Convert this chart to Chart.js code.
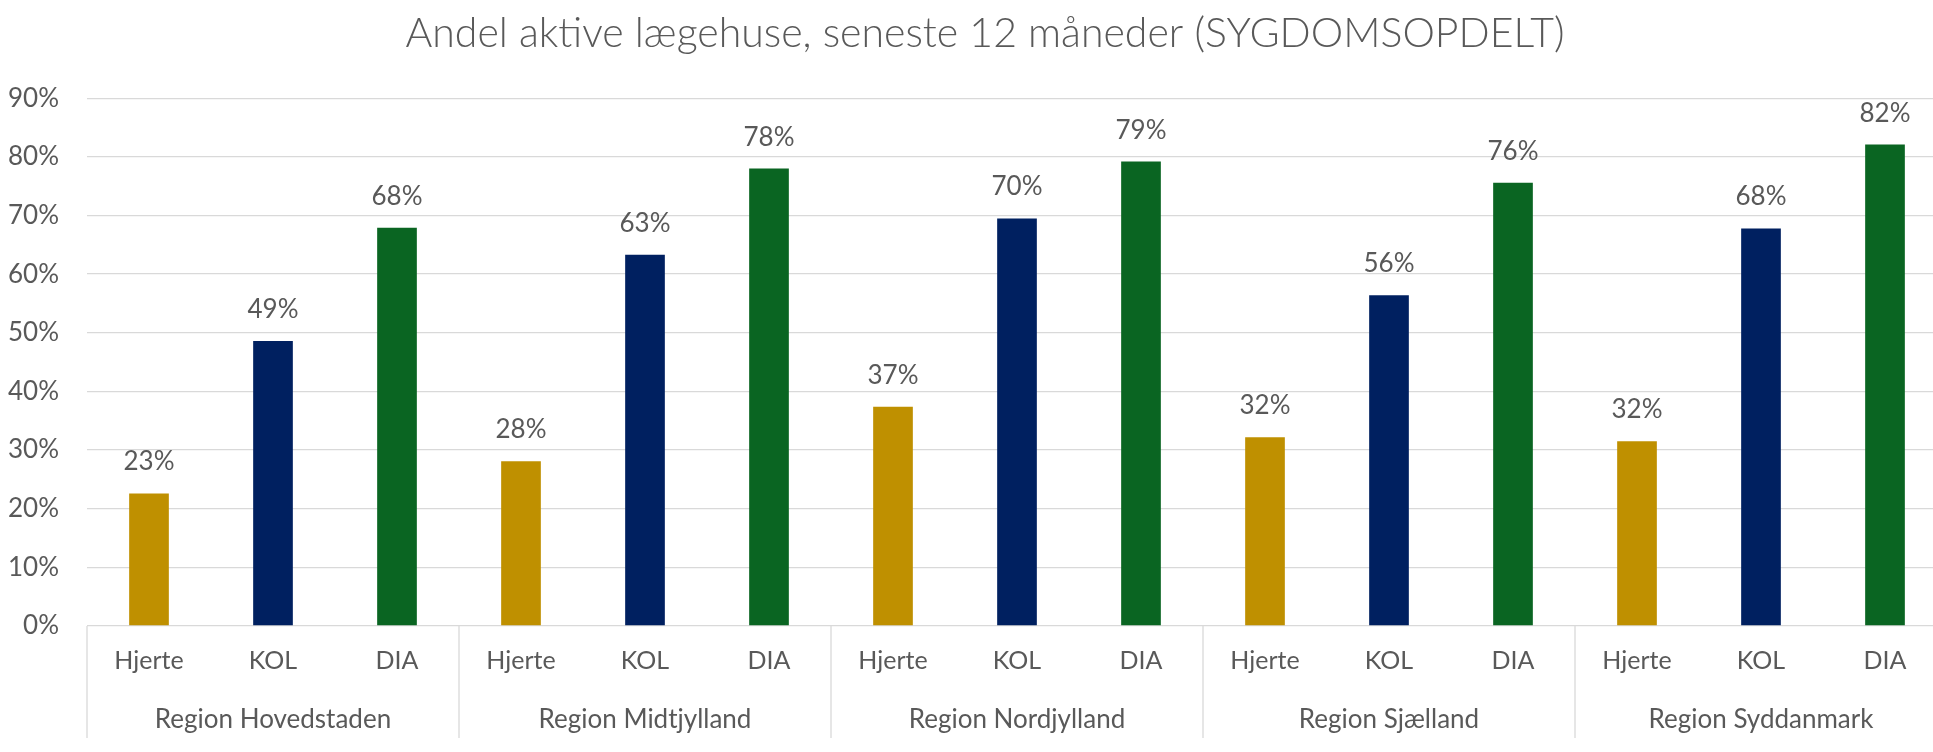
<!DOCTYPE html>
<html>
<head>
<meta charset="utf-8">
<script src="https://cdn.jsdelivr.net/npm/chart.js@4/dist/chart.umd.min.js"></script>
<style>
    html, body { margin: 0; padding: 0; background: #fff; overflow: hidden; }
    #wrap { width: 1970px; height: 752px; }
</style>
</head>
<body>
<div id="wrap"><canvas id="chart" width="1970" height="752"></canvas></div>
<script>
        const regions = ['Region Hovedstaden', 'Region Midtjylland', 'Region Nordjylland', 'Region Sjælland', 'Region Syddanmark'];
        const diseases = ['Hjerte', 'KOL', 'DIA'];
        const diseaseColors = ['#BF9000', '#002060', '#0A6522'];
        // share of active practices (%), per region: Hjerte, KOL, DIA
        const hovedstaden = [22.6, 48.6, 67.9];
        const midtjylland = [28.1, 63.3, 78.0];
        const nordjylland = [37.4, 69.5, 79.2];
        const sjaelland = [32.2, 56.4, 75.6];
        const syddanmark = [31.5, 67.8, 82.1];
        const yTicks = [0, 10, 20, 30, 40, 50, 60, 70, 80, 90];

        const textColor = '#595959';
        const lineColor = '#D9D9D9';
        const fontFamily = 'Lato, "Open Sans", sans-serif';

        const regionValues = [hovedstaden, midtjylland, nordjylland, sjaelland, syddanmark];
        const labels = [];
        const values = [];
        const colors = [];
        regionValues.forEach(vals => {
            vals.forEach((v, i) => {
                labels.push(diseases[i]);
                values.push(v);
                colors.push(diseaseColors[i]);
            });
        });

        const valueLabels = {
            id: 'valueLabels',
            afterDatasetsDraw(chart) {
                const ctx = chart.ctx;
                const meta = chart.getDatasetMeta(0);
                ctx.save();
                ctx.font = '26px ' + fontFamily;
                ctx.fillStyle = textColor;
                ctx.textAlign = 'center';
                ctx.textBaseline = 'alphabetic';
                meta.data.forEach((bar, i) => {
                    ctx.fillText(Math.round(values[i]) + '%', bar.x, bar.y - 23);
                });
                ctx.restore();
            }
        };

        const regionAxis = {
            id: 'regionAxis',
            afterDraw(chart) {
                const ctx = chart.ctx;
                const x = chart.scales.x;
                const top = chart.chartArea.bottom;
                const bottom = top + 112;
                const n = diseases.length;
                ctx.save();
                ctx.strokeStyle = lineColor;
                ctx.lineWidth = 1.3;
                for (let g = 0; g <= regions.length; g++) {
                    let px;
                    if (g === 0) px = x.left;
                    else if (g === regions.length) px = x.right;
                    else px = (x.getPixelForValue(g * n - 1) + x.getPixelForValue(g * n)) / 2;
                    ctx.beginPath();
                    ctx.moveTo(px, top);
                    ctx.lineTo(px, bottom);
                    ctx.stroke();
                }
                ctx.font = '26px ' + fontFamily;
                ctx.fillStyle = textColor;
                ctx.textAlign = 'center';
                ctx.textBaseline = 'alphabetic';
                regions.forEach((r, g) => {
                    const cx = (x.getPixelForValue(g * n) + x.getPixelForValue(g * n + n - 1)) / 2;
                    ctx.fillText(r, cx, top + 102);
                });
                ctx.restore();
            }
        };

        new Chart(document.getElementById('chart').getContext('2d'), {
            type: 'bar',
            data: {
                labels: labels,
                datasets: [{
                    data: values,
                    backgroundColor: colors,
                    barPercentage: 0.32,
                    categoryPercentage: 1
                }]
            },
            options: {
                responsive: false,
                animation: false,
                layout: { padding: 0 },
                plugins: {
                    legend: { display: false },
                    tooltip: { enabled: false },
                    title: {
                        display: true,
                        text: 'Andel aktive lægehuse, seneste 12 måneder (SYGDOMSOPDELT)',
                        color: textColor,
                        font: { family: fontFamily, size: 41, weight: '300' },
                        padding: { top: 9, bottom: 40 }
                    }
                },
                scales: {
                    x: {
                        grid: { display: false },
                        border: { display: false },
                        ticks: {
                            color: textColor,
                            font: { family: fontFamily, size: 25 },
                            autoSkip: false,
                            maxRotation: 0,
                            padding: 12
                        },
                        afterFit(scale) { scale.height = 126; }
                    },
                    y: {
                        min: yTicks[0],
                        max: yTicks[yTicks.length - 1],
                        grid: { color: lineColor, lineWidth: 1.3, drawTicks: false },
                        border: { display: false },
                        ticks: {
                            stepSize: yTicks[1] - yTicks[0],
                            color: textColor,
                            font: { family: fontFamily, size: 26 },
                            padding: 28,
                            callback: v => v + '%'
                        },
                        afterFit(scale) { scale.width = 87; }
                    },
                    // empty strip on the right, the plot runs past the picture edge
                    yRight: {
                        position: 'right',
                        grid: { display: false },
                        border: { display: false },
                        ticks: { display: false },
                        afterFit(scale) { scale.width = 23; }
                    }
                }
            },
            plugins: [valueLabels, regionAxis]
        });
</script>
</body>
</html>
